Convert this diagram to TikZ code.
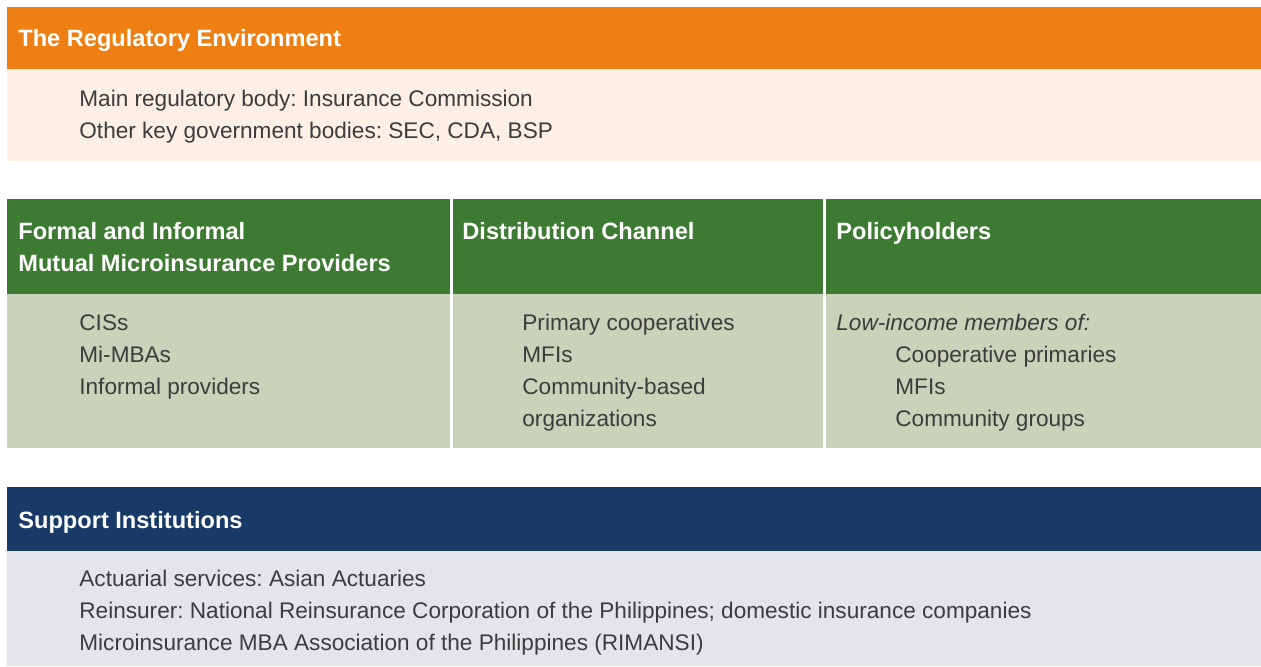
\documentclass[tikz,border=0pt]{standalone}
\usepackage{fontspec}
\setmainfont{Liberation Sans}
\usetikzlibrary{positioning}

\definecolor{regorange}{HTML}{EE7F12}
\definecolor{reglight}{HTML}{FCF0E6}
\definecolor{provgreen}{HTML}{3E7B32}
\definecolor{provlight}{HTML}{C9D3B9}
\definecolor{suppblue}{HTML}{183A66}
\definecolor{supplight}{HTML}{E4E5EB}
\definecolor{textgray}{HTML}{3C3C3C}

\begin{document}
\frenchspacing
\begin{tikzpicture}[x=0.5pt, y=-0.5pt,
	head/.style={anchor=base west, inner sep=0pt, text=white, font=\fontsize{11.8}{16}\selectfont\bfseries},
	item/.style={anchor=base west, inner sep=0pt, text=textgray, font=\fontsize{11.3}{16}\selectfont}]
	\useasboundingbox (0,0) rectangle (1261,666);
	% full width bands
	\foreach \c/\t/\b in {
		regorange/7/69,
		reglight/69/161,
		suppblue/487/551,
		supplight/551/666}
		\fill[\c] (7,\t) rectangle (1261,\b);
	% the three columns
	\foreach \l/\r in {7/450, 453/823, 826/1261} {
		\fill[provgreen] (\l,199) rectangle (\r,294);
		\fill[provlight] (\l,294) rectangle (\r,448);
	}
	% regulatory environment
	\node[head] (reghead) at (18,46) {The Regulatory Environment};
	\foreach \t [count=\i] in {
		Main regulatory body: Insurance Commission,
		{Other key government bodies: SEC, CDA, BSP}}
		\node[item] (reg\i) at (79,74+32*\i) {\t};
	% providers
	\node[head] (provhead) at (18,239) {Formal and Informal};
	\node[head] (provhead2) at (18,271) {Mutual Microinsurance Providers};
	\foreach \t [count=\i] in {CISs, Mi-MBAs, Informal providers}
		\node[item] (prov\i) at (79,298+32*\i) {\t};
	% distribution channel
	\node[head] (disthead) at (462,239) {Distribution Channel};
	\foreach \t [count=\i] in {Primary cooperatives, MFIs, Community-based, organizations}
		\node[item] (dist\i) at (522,298+32*\i) {\t};
	% policyholders
	\node[head] (polhead) at (836,239) {Policyholders};
	\node[item, font=\fontsize{11.3}{16}\selectfont\itshape] (polmem) at (836,330) {Low-income members of:};
	\foreach \t [count=\i] in {Cooperative primaries, MFIs, Community groups}
		\node[item] (pol\i) at (895,330+32*\i) {\t};
	% support institutions
	\node[head] (supphead) at (18,528) {Support Institutions};
	\foreach \t [count=\i] in {
		Actuarial services: Asian Actuaries,
		Reinsurer: National Reinsurance Corporation of the Philippines; domestic insurance companies,
		Microinsurance MBA Association of the Philippines (RIMANSI)}
		\node[item] (supp\i) at (79,554+32*\i) {\t};
\end{tikzpicture}
\end{document}
